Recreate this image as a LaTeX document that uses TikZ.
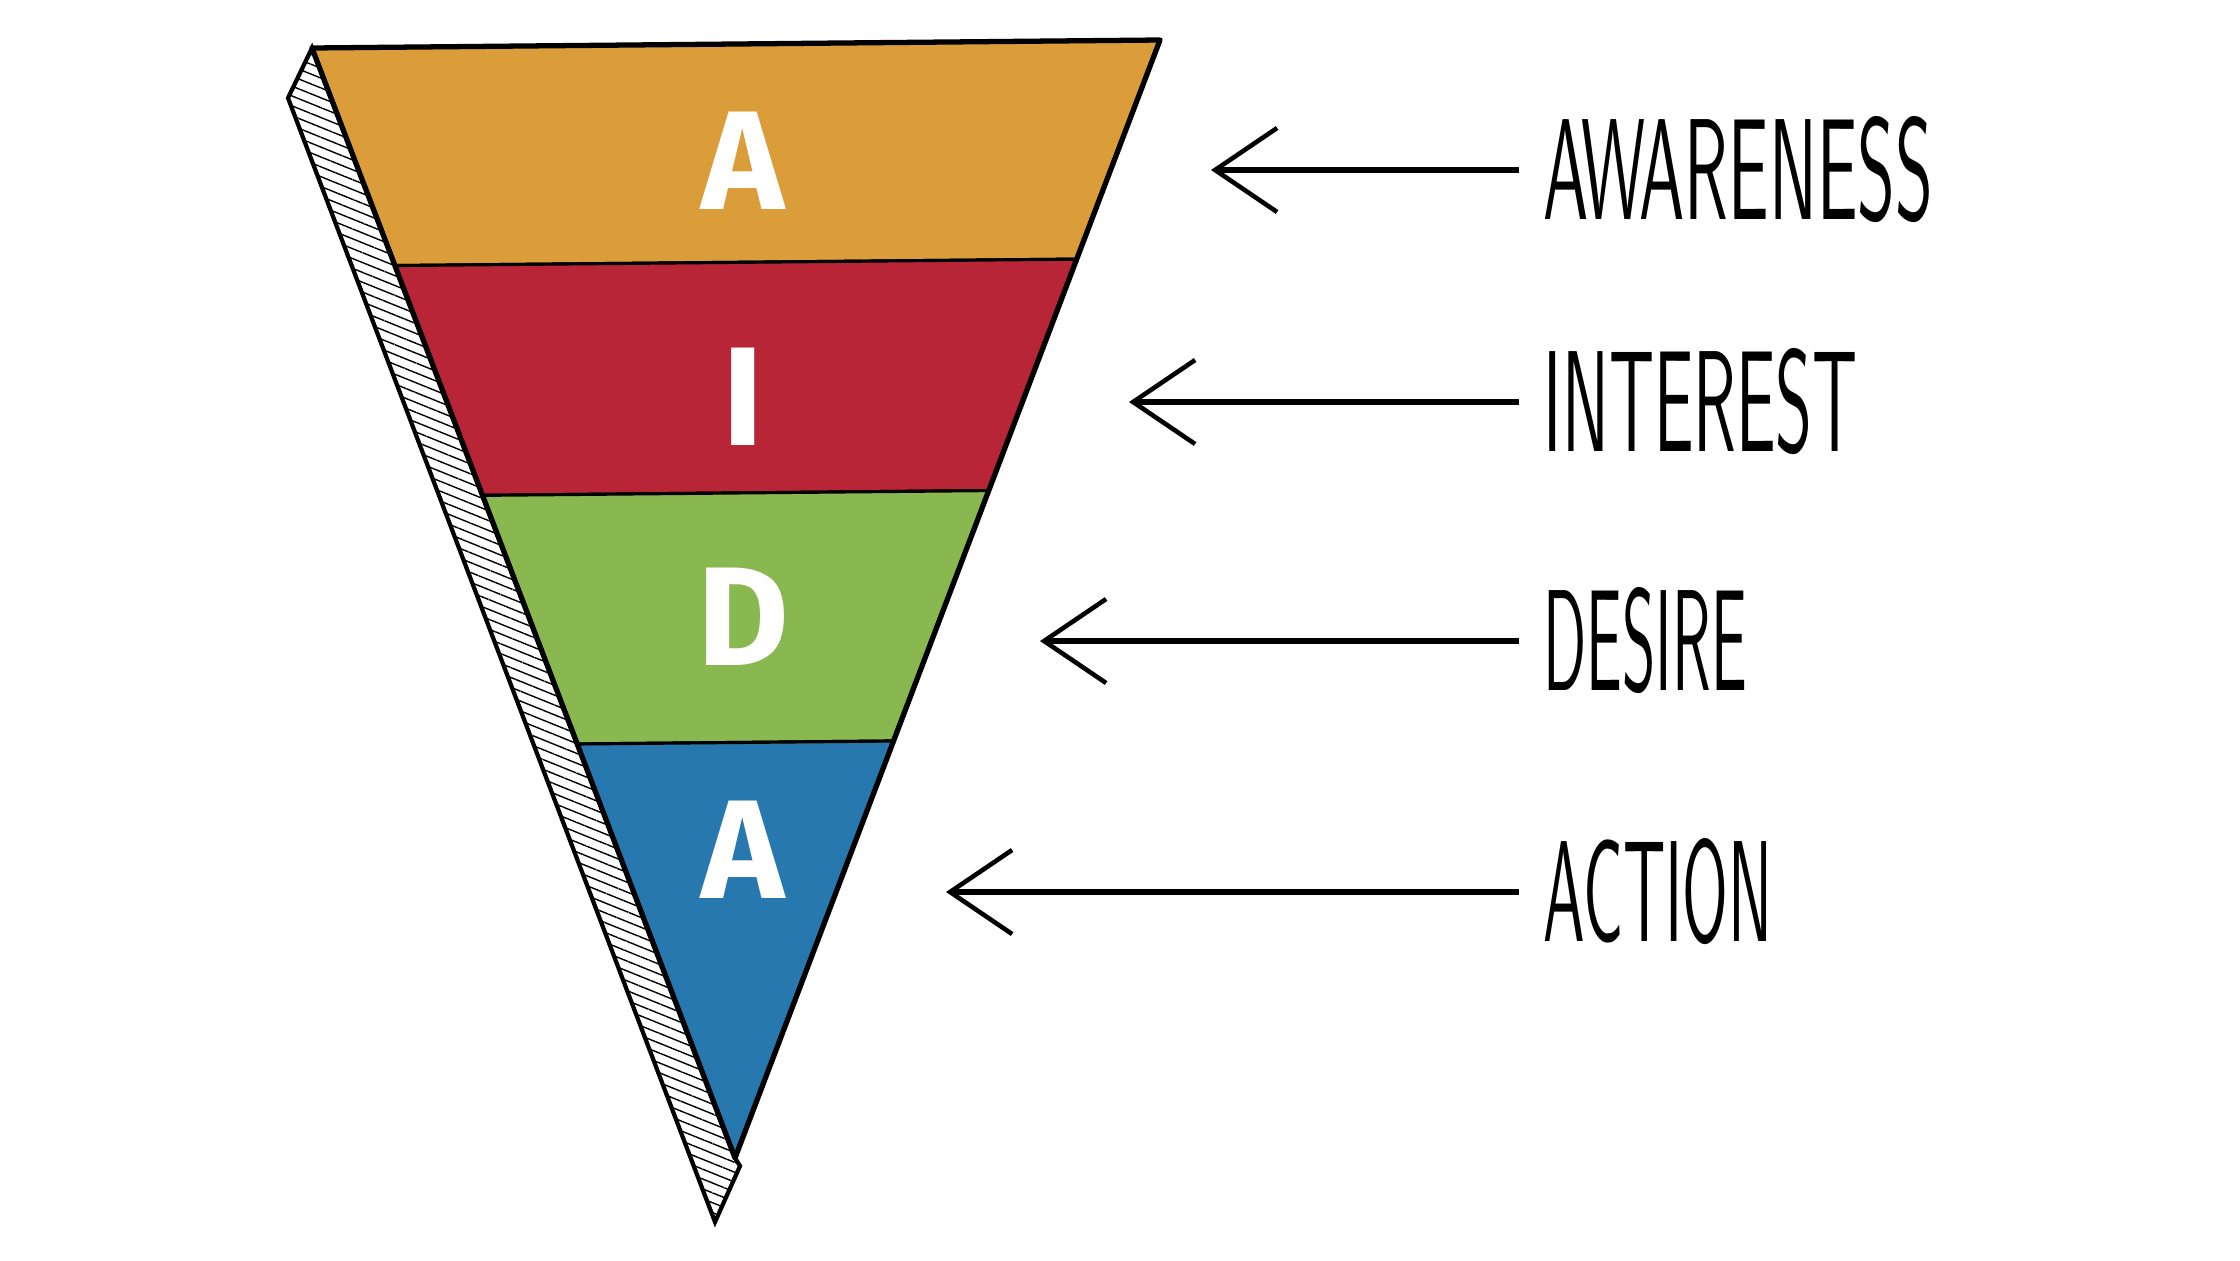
\documentclass[tikz,border=0pt]{standalone}
\usepackage{fontspec}
\usepackage{graphicx}
\setmainfont{Liberation Sans}
\newfontfamily\bandfont{Fira Sans}
\usetikzlibrary{arrows.meta,patterns.meta,calc}

\definecolor{awarecol}{HTML}{DA9D3A}
\definecolor{interestcol}{HTML}{B82537}
\definecolor{desirecol}{HTML}{88B84F}
\definecolor{actioncol}{HTML}{2878B0}

% stage names, squeezed to the hand lettering
\newcommand{\stagename}[2]{\resizebox{#1}{1.03cm}{\sffamily #2}}

\begin{document}
\begin{tikzpicture}[x=0.01cm,y=-0.01cm,
    band/.style={draw=black,line width=0.9pt},
    letter/.style={text=white,inner sep=0pt,font=\bandfont\bfseries\fontsize{40}{40}\selectfont},
    stagelabel/.style={anchor=west,inner sep=0pt},
    pointer/.style={line width=1.6pt,shorten <=0.24cm,
      -{Straight Barb[length=0.62cm,width=0.84cm,line width=1.3pt]}}]
  \useasboundingbox (0,0) rectangle (2240,1260);

  \coordinate (tl) at (312,48);
  \coordinate (tr) at (1160,40);
  \coordinate (tip) at (735,1158);

  % hatched side of the funnel
  \draw[line width=1.2pt,pattern={Lines[angle=-22,distance=2.6pt,line width=0.4pt]}]
    (tl) -- (288,98) -- (715,1222) -- (740,1166) -- (tip) -- cycle;

  % coloured bands
  \foreach \col/\fa/\fb in {awarecol/0/0.196,interestcol/0.196/0.403,
                             desirecol/0.403/0.627,actioncol/0.627/1}
    \filldraw[band,fill=\col] ($(tl)!\fa!(tip)$) -- ($(tr)!\fa!(tip)$)
      -- ($(tr)!\fb!(tip)$) -- ($(tl)!\fb!(tip)$) -- cycle;
  \draw[line width=1.5pt,line join=round] (tl) -- (tr) -- (tip) -- cycle;

  \node[letter] (letA) at (743,161) {A};
  \node[letter] (letI) at (743,397) {I};
  \node[letter] (letD) at (743,617) {D};
  \node[letter] (letAA) at (743,850) {A};

  % stages and pointers
  \node[stagelabel] (awareness) at (1543,170) {\stagename{3.89cm}{AWARENESS}};
  \node[stagelabel] (interest) at (1543,402) {\stagename{3.14cm}{INTEREST}};
  \node[stagelabel] (desire) at (1543,641) {\stagename{2.03cm}{DESIRE}};
  \node[stagelabel] (action) at (1543,892) {\stagename{2.29cm}{ACTION}};

  \coordinate (awaretip) at (1211,170);
  \coordinate (interesttip) at (1129,402);
  \coordinate (desiretip) at (1040,641);
  \coordinate (actiontip) at (946,892);

  \draw[pointer] (awareness.west) -- (awaretip);
  \draw[pointer] (interest.west) -- (interesttip);
  \draw[pointer] (desire.west) -- (desiretip);
  \draw[pointer] (action.west) -- (actiontip);
\end{tikzpicture}
\end{document}
